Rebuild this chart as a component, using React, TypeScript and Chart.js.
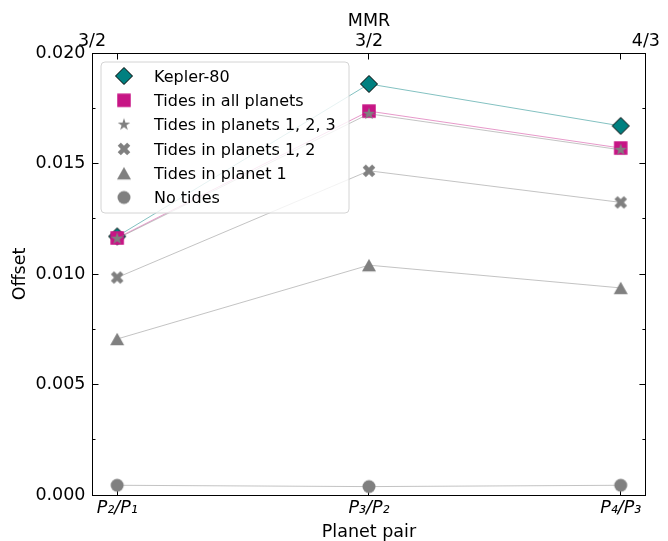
import React, { useEffect, useRef } from 'react';
import { Chart, registerables } from 'chart.js';

Chart.register(...registerables);

// ---- data ----
const pairLabels = ['P₂/P₁', 'P₃/P₂', 'P₄/P₃'];
const mmrLabels = ['3/2', '3/2', '4/3'];
const seriesNames = [
  'Kepler-80',
  'Tides in all planets',
  'Tides in planets 1, 2, 3',
  'Tides in planets 1, 2',
  'Tides in planet 1',
  'No tides',
];
const kepler80 = [0.0117, 0.0186, 0.0167];
const tidesAll = [0.01163, 0.01737, 0.0157];
const tides123 = [0.0116, 0.01725, 0.01562];
const tides12 = [0.00984, 0.01467, 0.01324];
const tides1 = [0.00706, 0.0104, 0.00937];
const noTides = [0.00044, 0.00038, 0.00044];
const yMajorTicks = [0, 0.005, 0.01, 0.015, 0.02];
const yMinorTicks = [0, 0.0025, 0.005, 0.0075, 0.01, 0.0125, 0.015, 0.0175, 0.02];

const FONT = 'DejaVu Sans';
const GRAY = '#808080';
const W = 668;
const H = 541;

function makeCanvas(size: number, draw: (c: CanvasRenderingContext2D, m: number) => void) {
  const cv = document.createElement('canvas');
  cv.width = size;
  cv.height = size;
  const c = cv.getContext('2d');
  if (c) draw(c, size / 2);
  return cv;
}

function buildMarkers() {
  const diamond = makeCanvas(22, (c, m) => {
    const r = 8.5;
    c.beginPath();
    c.moveTo(m, m - r);
    c.lineTo(m + r, m);
    c.lineTo(m, m + r);
    c.lineTo(m - r, m);
    c.closePath();
    c.fillStyle = '#008080';
    c.fill();
    c.lineWidth = 1;
    c.strokeStyle = '#000';
    c.stroke();
  });
  const square = makeCanvas(22, (c, m) => {
    c.fillStyle = '#c71585';
    c.fillRect(m - 6.75, m - 6.75, 13.5, 13.5);
  });
  const star = makeCanvas(22, (c, m) => {
    const ro = 6.6;
    const ri = ro * 0.381966;
    c.beginPath();
    for (let k = 0; k < 10; k++) {
      const a = -Math.PI / 2 + (k * Math.PI) / 5;
      const r = k % 2 === 0 ? ro : ri;
      const px = m + r * Math.cos(a);
      const py = m + r * Math.sin(a);
      if (k === 0) c.moveTo(px, py);
      else c.lineTo(px, py);
    }
    c.closePath();
    c.fillStyle = GRAY;
    c.fill();
  });
  const cross = makeCanvas(22, (c, m) => {
    const pts = [
      [-1, -2], [0, -1], [1, -2], [2, -1], [1, 0], [2, 1],
      [1, 2], [0, 1], [-1, 2], [-2, 1], [-1, 0], [-2, -1],
    ];
    const u = 12.6 / 4;
    c.beginPath();
    pts.forEach(([px, py], k) => {
      if (k === 0) c.moveTo(m + px * u, m + py * u);
      else c.lineTo(m + px * u, m + py * u);
    });
    c.closePath();
    c.fillStyle = GRAY;
    c.fill();
  });
  const triangle = makeCanvas(22, (c, m) => {
    c.beginPath();
    c.moveTo(m, m - 6.3);
    c.lineTo(m + 7, m + 6.3);
    c.lineTo(m - 7, m + 6.3);
    c.closePath();
    c.fillStyle = GRAY;
    c.fill();
  });
  const circle = makeCanvas(22, (c, m) => {
    c.beginPath();
    c.arc(m, m, 6.5, 0, Math.PI * 2);
    c.fillStyle = GRAY;
    c.fill();
  });
  return { diamond, square, star, cross, triangle, circle };
}

const toPoints = (arr: number[]) => arr.map((y, i) => ({ x: i, y }));

export default function App() {
  const ref = useRef<HTMLCanvasElement>(null);

  useEffect(() => {
    if (!ref.current) return;
    const mk = buildMarkers();
    const markerList = [mk.diamond, mk.square, mk.star, mk.cross, mk.triangle, mk.circle];
    const seriesValues = [kepler80, tidesAll, tides123, tides12, tides1, noTides];
    const lineColors = [
      'rgba(0,128,128,0.62)',
      'rgba(199,21,133,0.55)',
      'rgba(128,128,128,0.6)',
      'rgba(128,128,128,0.6)',
      'rgba(128,128,128,0.6)',
      'rgba(128,128,128,0.6)',
    ];

    const datasets = seriesNames.map((name, i) => ({
      label: name,
      data: toPoints(seriesValues[i]),
      borderColor: lineColors[i],
      backgroundColor: lineColors[i],
      borderWidth: 0.8,
      pointStyle: markerList[i],
      pointRadius: 8,
      pointHoverRadius: 8,
      fill: false,
      tension: 0,
      order: seriesNames.length - i,
      clip: false as any,
    }));

    const legendPlugin = {
      id: 'insideLegend',
      afterDatasetsDraw(chart: any) {
        const ctx: CanvasRenderingContext2D = chart.ctx;
        const area = chart.chartArea;
        const x0 = area.left + 9;
        const y0 = area.top + 9;
        const w = 248;
        const h = 151;
        const r = 4;
        ctx.save();
        ctx.beginPath();
        ctx.moveTo(x0 + r, y0);
        ctx.lineTo(x0 + w - r, y0);
        ctx.arcTo(x0 + w, y0, x0 + w, y0 + r, r);
        ctx.lineTo(x0 + w, y0 + h - r);
        ctx.arcTo(x0 + w, y0 + h, x0 + w - r, y0 + h, r);
        ctx.lineTo(x0 + r, y0 + h);
        ctx.arcTo(x0, y0 + h, x0, y0 + h - r, r);
        ctx.lineTo(x0, y0 + r);
        ctx.arcTo(x0, y0, x0 + r, y0, r);
        ctx.closePath();
        ctx.fillStyle = 'rgba(255,255,255,0.8)';
        ctx.fill();
        ctx.lineWidth = 1;
        ctx.strokeStyle = '#d4d4d4';
        ctx.stroke();
        ctx.font = `16px "${FONT}"`;
        ctx.fillStyle = '#000';
        ctx.textAlign = 'left';
        ctx.textBaseline = 'alphabetic';
        chart.data.datasets.forEach((ds: any, i: number) => {
          const cy = y0 + 14 + i * 24.3;
          const img = ds.pointStyle as HTMLCanvasElement;
          ctx.drawImage(img, x0 + 23 - img.width / 2, cy - img.height / 2);
          ctx.fillText(ds.label, x0 + 53, cy + 5.8);
        });
        ctx.restore();
      },
    };

    const tickFont = { family: FONT, size: 17.5, lineHeight: 1.2 };
    const titleFont = { family: FONT, size: 17.5, lineHeight: 1 };
    const topTickValues = [-0.1, 0, 1, 2, 2.1];
    const topLabelAt: Record<string, string> = { '-0.1': mmrLabels[0], '1': mmrLabels[1], '2.1': mmrLabels[2] };

    const chart = new Chart(ref.current, {
      type: 'line',
      data: { datasets: datasets as any },
      plugins: [legendPlugin],
      options: {
        animation: false,
        responsive: false,
        maintainAspectRatio: false,
        devicePixelRatio: 1,
        events: [],
        layout: { padding: 0 },
        plugins: { legend: { display: false }, tooltip: { enabled: false } },
        scales: {
          x: {
            type: 'linear',
            position: 'bottom',
            min: -0.1,
            max: 2.1,
            afterBuildTicks: (s: any) => {
              s.ticks = pairLabels.map((_, i) => ({ value: i }));
            },
            afterFit: (s: any) => {
              s.height = 46;
            },
            ticks: {
              autoSkip: false,
              maxRotation: 0,
              padding: 9,
              color: '#000',
              font: { ...tickFont, style: 'italic' },
              callback: (v: any) => pairLabels[Math.round(Number(v))] ?? '',
            },
            grid: { drawOnChartArea: false, tickLength: -6.5, tickColor: '#000', tickWidth: 1 },
            border: { display: true, color: '#000', width: 1 },
            title: {
              display: true,
              text: 'Planet pair',
              color: '#000',
              font: titleFont,
              padding: { top: 0, bottom: 0 },
            },
          },
          xTop: {
            type: 'linear',
            position: 'top',
            min: -0.1,
            max: 2.1,
            afterBuildTicks: (s: any) => {
              s.ticks = topTickValues.map((v) => ({ value: v }));
            },
            afterFit: (s: any) => {
              s.height = 53;
            },
            ticks: {
              autoSkip: false,
              maxRotation: 0,
              padding: 8,
              color: '#000',
              font: tickFont,
              callback: (v: any) => topLabelAt[String(v)] ?? '',
            },
            grid: {
              drawOnChartArea: false,
              tickLength: -6.5,
              tickWidth: 1,
              tickColor: (ctx: any) =>
                ctx.tick && (ctx.tick.value === -0.1 || ctx.tick.value === 2.1) ? 'rgba(0,0,0,0)' : '#000',
            },
            border: { display: true, color: '#000', width: 1 },
            title: {
              display: true,
              text: 'MMR',
              color: '#000',
              font: titleFont,
              padding: { top: 13, bottom: 0 },
            },
          },
          y: {
            type: 'linear',
            position: 'left',
            weight: 1,
            min: 0,
            max: 0.02,
            afterBuildTicks: (s: any) => {
              s.ticks = yMajorTicks.map((v) => ({ value: v }));
            },
            afterFit: (s: any) => {
              s.width = 92;
            },
            ticks: {
              padding: 13,
              color: '#000',
              font: tickFont,
              callback: (v: any) => Number(v).toFixed(3),
            },
            grid: { drawOnChartArea: false, tickLength: -6.5, tickColor: '#000', tickWidth: 1 },
            border: { display: true, color: '#000', width: 1 },
            title: {
              display: true,
              text: 'Offset',
              color: '#000',
              font: titleFont,
              padding: { top: 11.5, bottom: 0 },
            },
          },
          yMinor: {
            type: 'linear',
            position: 'left',
            weight: 0,
            min: 0,
            max: 0.02,
            afterBuildTicks: (s: any) => {
              s.ticks = yMinorTicks.map((v) => ({ value: v }));
            },
            afterFit: (s: any) => {
              s.width = 0;
            },
            ticks: { display: false },
            grid: { drawOnChartArea: false, tickLength: -3.5, tickColor: '#000', tickWidth: 1 },
            border: { display: false },
          },
          yRight: {
            type: 'linear',
            position: 'right',
            weight: 1,
            min: 0,
            max: 0.02,
            afterBuildTicks: (s: any) => {
              s.ticks = yMajorTicks.map((v) => ({ value: v }));
            },
            afterFit: (s: any) => {
              s.width = 16;
            },
            ticks: { display: false },
            grid: { drawOnChartArea: false, tickLength: -6.5, tickColor: '#000', tickWidth: 1 },
            border: { display: true, color: '#000', width: 1 },
          },
          yRightMinor: {
            type: 'linear',
            position: 'right',
            weight: 0,
            min: 0,
            max: 0.02,
            afterBuildTicks: (s: any) => {
              s.ticks = yMinorTicks.map((v) => ({ value: v }));
            },
            afterFit: (s: any) => {
              s.width = 0;
            },
            ticks: { display: false },
            grid: { drawOnChartArea: false, tickLength: -3.5, tickColor: '#000', tickWidth: 1 },
            border: { display: false },
          },
        } as any,
      },
    });

    return () => {
      chart.destroy();
    };
  }, []);

  return (
    <div style={{ position: 'absolute', left: 0, top: 0, width: W, height: H, background: '#fff' }}>
      <canvas ref={ref} width={W} height={H} style={{ display: 'block', width: W, height: H }} />
    </div>
  );
}
